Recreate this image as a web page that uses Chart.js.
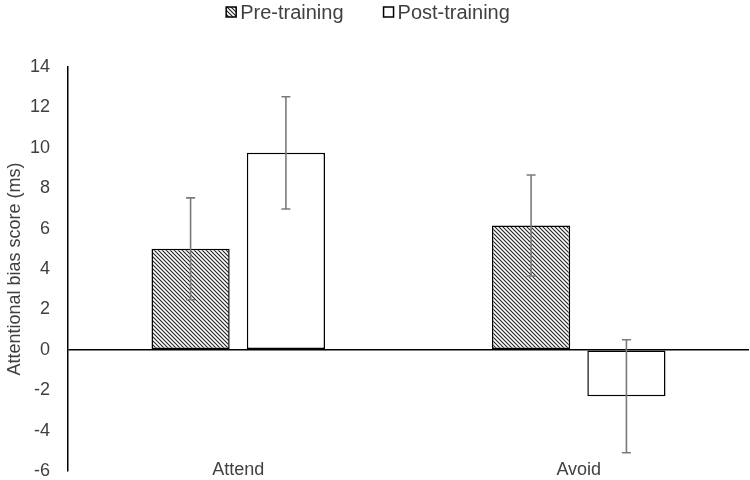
<!DOCTYPE html>
<html lang="en">
    <head>
        <meta charset="UTF-8" />
        <title>Attentional bias score</title>
        <script src="https://cdn.jsdelivr.net/npm/chart.js"></script>
        <style>
            html, body { margin: 0; padding: 0; background: #fff; }
            canvas { display: block; }
        </style>
    </head>
    <body>
        <canvas id="chartBias" width="750" height="480" style="width:750px;height:480px"></canvas>

        <script>
            const categories = ["Attend", "Avoid"];
            const seriesNames = ["Pre-training", "Post-training"];
            const preValues = [5.0, 6.15];
            const postValues = [9.75, -2.3];
            const preErrors = [2.52, 2.5];
            const postErrors = [2.78, 2.8];
            const yTicks = [-6, -4, -2, 0, 2, 4, 6, 8, 10, 12, 14];

            const FONT = "'Liberation Sans', Arial, sans-serif";
            const TEXT = "#404040";

            // diagonal hatch for pre-training bars
            function makeHatch() {
                const c = document.createElement("canvas");
                c.width = 4;
                c.height = 4;
                const g = c.getContext("2d");
                g.fillStyle = "#fff";
                g.fillRect(0, 0, 4, 4);
                g.strokeStyle = "#222";
                g.lineWidth = 1.1;
                g.beginPath();
                g.moveTo(-1, -1); g.lineTo(5, 5);
                g.moveTo(3, -1); g.lineTo(5, 1);
                g.moveTo(-1, 3); g.lineTo(1, 5);
                g.stroke();
                return document.getElementById("chartBias").getContext("2d").createPattern(c, "repeat");
            }
            const hatch = makeHatch();

            const errorBars = {
                id: "errorBars",
                afterDatasetsDraw(chart) {
                    const ctx = chart.ctx;
                    const y = chart.scales.y;
                    ctx.save();
                    ctx.strokeStyle = "#7a7a7a";
                    ctx.lineWidth = 1.6;
                    chart.data.datasets.forEach((ds, i) => {
                        chart.getDatasetMeta(i).data.forEach((bar, j) => {
                            const v = ds.data[j], e = ds.errors[j];
                            const y1 = y.getPixelForValue(v + e);
                            const y2 = y.getPixelForValue(v - e);
                            ctx.beginPath();
                            ctx.moveTo(bar.x, y1); ctx.lineTo(bar.x, y2);
                            ctx.moveTo(bar.x - 4.5, y1); ctx.lineTo(bar.x + 4.5, y1);
                            ctx.moveTo(bar.x - 4.5, y2); ctx.lineTo(bar.x + 4.5, y2);
                            ctx.stroke();
                        });
                    });
                    ctx.restore();
                },
            };

            const topLegend = {
                id: "topLegend",
                afterDraw(chart) {
                    const ctx = chart.ctx;
                    ctx.save();
                    ctx.font = "20px " + FONT;
                    ctx.textBaseline = "middle";
                    const box = 10, gapText = 4, gapItem = 40;
                    const widths = chart.data.datasets.map((d) => box + gapText + ctx.measureText(d.label).width);
                    const total = widths.reduce((a, b) => a + b, 0) + gapItem;
                    let x = 368 - total / 2;
                    const cy = 12;
                    chart.data.datasets.forEach((d, i) => {
                        ctx.fillStyle = d.backgroundColor;
                        ctx.fillRect(x, cy - box / 2, box, box);
                        ctx.strokeStyle = "#000";
                        ctx.lineWidth = 1.5;
                        ctx.strokeRect(x, cy - box / 2, box, box);
                        ctx.fillStyle = TEXT;
                        ctx.fillText(d.label, x + box + gapText, cy + 1);
                        x += widths[i] + gapItem;
                    });
                    ctx.restore();
                },
            };

            // category labels sit just above the bottom of the plot, as in the original
            const raiseLabels = {
                id: "raiseLabels",
                afterLayout(chart) {
                    chart.scales.x.top = chart.chartArea.bottom - 14;
                },
            };

            new Chart(document.getElementById("chartBias"), {
                type: "bar",
                data: {
                    labels: categories,
                    datasets: [
                        {
                            label: seriesNames[0],
                            data: preValues,
                            errors: preErrors,
                            backgroundColor: hatch,
                            borderColor: "#000",
                            borderWidth: 1.5,
                            borderSkipped: false,
                        },
                        {
                            label: seriesNames[1],
                            data: postValues,
                            errors: postErrors,
                            backgroundColor: "#fff",
                            borderColor: "#000",
                            borderWidth: 1.5,
                            borderSkipped: false,
                        },
                    ],
                },
                options: {
                    responsive: false,
                    animation: false,
                    categoryPercentage: 0.56,
                    barPercentage: 0.82,
                    layout: { padding: { top: 67, left: 0, right: 1, bottom: 0 } },
                    plugins: { legend: { display: false }, tooltip: { enabled: false } },
                    scales: {
                        x: {
                            grid: { display: false, drawTicks: false },
                            border: { display: false },
                            ticks: { color: TEXT, font: { family: FONT, size: 18 }, padding: 2 },
                            afterFit(s) {
                                s.height = 9;
                                s.paddingLeft = 0;
                                s.paddingRight = 0;
                            },
                        },
                        y: {
                            min: -6,
                            max: 14,
                            afterBuildTicks(s) { s.ticks = yTicks.map((v) => ({ value: v })); },
                            grid: {
                                drawTicks: false,
                                lineWidth: 1.5,
                                color: (c) => (c.tick && c.tick.value === 0 ? "#000" : "rgba(0,0,0,0)"),
                            },
                            border: { display: true, color: "#000", width: 1.5 },
                            ticks: { color: TEXT, font: { family: FONT, size: 18 }, padding: 18 },
                            title: {
                                display: true,
                                text: "Attentional bias score (ms)",
                                color: TEXT,
                                font: { family: FONT, size: 18 },
                            },
                            afterFit(s) {
                                s.width = 68;
                                s.paddingTop = 0;
                                s.paddingBottom = 0;
                            },
                        },
                    },
                },
                plugins: [raiseLabels, errorBars, topLegend],
            });
        </script>
    </body>
</html>
